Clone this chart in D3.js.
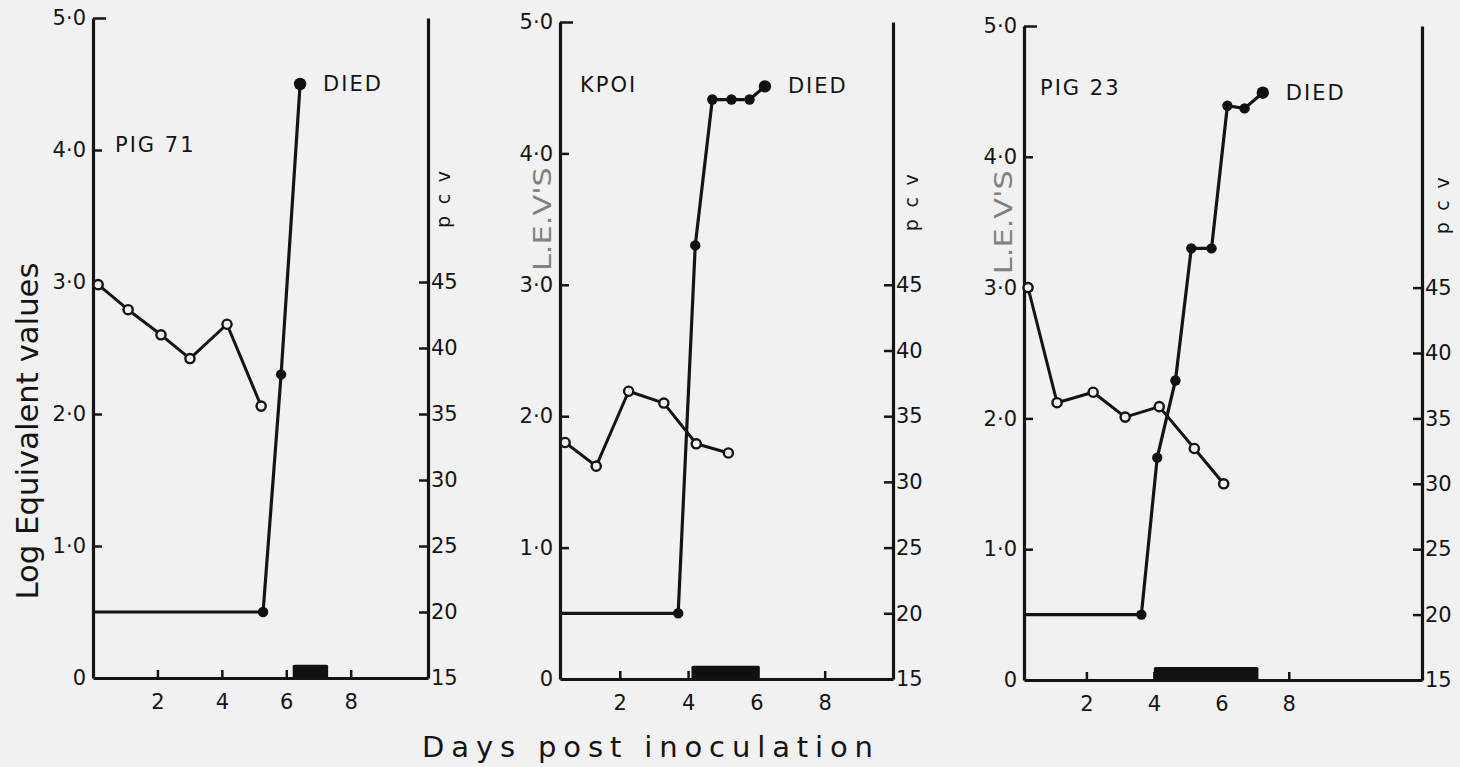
<!DOCTYPE html>
<html>
<head>
<meta charset="utf-8">
<script src="https://cdn.jsdelivr.net/npm/d3@7"></script>
<style>
  body { margin: 0; background: #f1f1f1; }
  svg { display: block; }
  text { font-family: "DejaVu Sans", sans-serif; fill: #141414; }
</style>
</head>
<body>
<div id="chart"></div>
<script>
// ---- data ----
var panelNames = ["PIG 71", "KPOI", "PIG 23"];

// packed cell volume (open circles), right-hand scale
var pig71PcvDays = [0.16, 1.09, 2.11, 3.01, 4.16, 5.22],
    pig71Pcv     = [44.8, 42.9, 41.0, 39.2, 41.8, 35.6];
var kp01PcvDays  = [0.40, 1.31, 2.26, 3.29, 4.24, 5.18],
    kp01Pcv      = [33.0, 31.2, 36.9, 36.0, 32.9, 32.2];
var pig23PcvDays = [0.27, 1.13, 2.20, 3.15, 4.16, 5.20, 6.07],
    pig23Pcv     = [45.0, 36.2, 37.0, 35.1, 35.9, 32.7, 30.0];

// log equivalent values (filled circles), left-hand scale
var pig71LevDays = [0, 5.28, 5.84, 6.43],
    pig71Lev     = [0.5, 0.5, 2.3, 4.5];
var kp01LevDays  = [0, 3.71, 4.21, 4.71, 5.27, 5.80, 6.25],
    kp01Lev      = [0.5, 0.5, 3.3, 4.41, 4.41, 4.41, 4.51];
var pig23LevDays = [0, 3.63, 4.10, 4.64, 5.11, 5.71, 6.18, 6.69, 7.23],
    pig23Lev     = [0.5, 0.5, 1.7, 2.29, 3.3, 3.3, 4.39, 4.37, 4.49];

// black bars on the day axis (start, end day)
var pig71Bar = [6.2, 7.3],
    kp01Bar  = [4.1, 6.1],
    pig23Bar = [4.0, 7.1];

var levTicks = [0, 1, 2, 3, 4, 5],
    pcvTicks = [15, 20, 25, 30, 35, 40, 45],
    dayTicks = [2, 4, 6, 8];
var dayDomains = [[0, 10.4], [0.25, 10], [0.15, 11.95]];

// ---- layout ----
var W = 1460, H = 767;
var frames = [
  {left: 93,   right: 428,  top: 18, bottom: 678, nameDx: 22, nameY: 152, levX: 0,    pcvDx: 22},
  {left: 560,  right: 893,  top: 22, bottom: 679, nameDx: 20, nameY: 92,  levX: 551,  pcvDx: 25},
  {left: 1024, right: 1422, top: 26, bottom: 680, nameDx: 16, nameY: 95,  levX: 1012, pcvDx: 27}
];

var panels = [
  {pcvDays: pig71PcvDays, pcv: pig71Pcv, levDays: pig71LevDays, lev: pig71Lev, bar: pig71Bar},
  {pcvDays: kp01PcvDays,  pcv: kp01Pcv,  levDays: kp01LevDays,  lev: kp01Lev,  bar: kp01Bar},
  {pcvDays: pig23PcvDays, pcv: pig23Pcv, levDays: pig23LevDays, lev: pig23Lev, bar: pig23Bar}
];

var svg = d3.select("#chart").append("svg")
  .attr("width", W)
  .attr("height", H);

svg.append("rect")
  .attr("width", W).attr("height", H)
  .attr("fill", "#f1f1f1");

var levFormat = function(d) { return d === 0 ? "0" : d3.format(".1f")(d).replace(".", "\u00b7"); };

panels.forEach(function(p, i) {
  var f = frames[i];
  var x = d3.scaleLinear().domain(dayDomains[i]).range([f.left, f.right]).clamp(true),
      y = d3.scaleLinear().domain([0, 5]).range([f.bottom, f.top]),
      yPcv = d3.scaleLinear().domain([15, 65]).range([f.bottom, f.top]);

  var g = svg.append("g");

  // axes: ticks point into the plot
  var axes = [
    g.append("g").attr("transform", "translate(" + f.left + ",0)")
      .call(d3.axisLeft(y).tickValues(levTicks).tickFormat(levFormat)
      .tickSizeInner(-9).tickSizeOuter(0).tickPadding(7)),
    g.append("g").attr("transform", "translate(" + f.right + ",0)")
      .call(d3.axisRight(yPcv).tickValues(pcvTicks).tickFormat(d3.format("d"))
      .tickSizeInner(-9).tickSizeOuter(0).tickPadding(3)),
    g.append("g").attr("transform", "translate(0," + f.bottom + ")")
      .call(d3.axisBottom(x).tickValues(dayTicks).tickFormat(d3.format("d"))
      .tickSizeInner(-8).tickSizeOuter(0).tickPadding(16))
  ];
  axes.forEach(function(a) {
    a.select(".domain").attr("stroke", "#141414").attr("stroke-width", 3.2);
    a.selectAll(".tick line").attr("stroke", "#141414").attr("stroke-width", 2.5);
    a.selectAll(".tick text").attr("font-size", 21).attr("font-family", "DejaVu Sans").attr("fill", "#141414");
  });
  // day-0 tick sits on the day axis; 5.0 tick is a longer cap
  axes[0].selectAll(".tick").filter(function(d) { return d === 0; }).select("line").remove();
  axes[0].selectAll(".tick").filter(function(d) { return d === 5; }).select("line").attr("x2", 13);
  axes[1].selectAll(".tick").filter(function(d) { return d === 15; }).select("line").remove();

  // black bar on day axis
  g.append("rect")
    .attr("x", x(p.bar[0]))
    .attr("y", y(0.1))
    .attr("width", x(p.bar[1]) - x(p.bar[0]))
    .attr("height", y(0) - y(0.1))
    .attr("rx", 1.5)
    .attr("fill", "#111");

  // pcv series
  var pcvPts = p.pcvDays.map(function(d, k) { return [x(d), yPcv(p.pcv[k])]; });
  g.append("path")
    .attr("d", d3.line()(pcvPts))
    .attr("fill", "none")
    .attr("stroke", "#141414")
    .attr("stroke-width", 3)
    .attr("stroke-linejoin", "round");

  // LEV series
  var levPts = p.levDays.map(function(d, k) { return [x(d), y(p.lev[k])]; });
  g.append("path")
    .attr("d", d3.line()(levPts))
    .attr("fill", "none")
    .attr("stroke", "#141414")
    .attr("stroke-width", 3.2)
    .attr("stroke-linejoin", "round");

  g.selectAll("circle.pcv")
    .data(pcvPts)
    .enter().append("circle")
    .attr("class", "pcv")
    .attr("cx", function(d) { return d[0]; })
    .attr("cy", function(d) { return d[1]; })
    .attr("r", 4.6)
    .attr("fill", "#f1f1f1")
    .attr("stroke", "#141414")
    .attr("stroke-width", 2.4);

  g.selectAll("circle.lev")
    .data(levPts.slice(1))
    .enter().append("circle")
    .attr("class", "lev")
    .attr("cx", function(d) { return d[0]; })
    .attr("cy", function(d) { return d[1]; })
    .attr("r", function(d, k) { return k === levPts.length - 2 ? 6.2 : 5.2; })
    .attr("fill", "#111");

  // labels
  var last = levPts[levPts.length - 1];
  g.append("text")
    .attr("x", last[0] + 23)
    .attr("y", last[1] + 7)
    .attr("font-size", 21)
    .attr("letter-spacing", 2)
    .text("DIED");

  g.append("text")
    .attr("x", f.left + f.nameDx)
    .attr("y", f.nameY)
    .attr("font-size", 21)
    .attr("letter-spacing", 2)
    .text(panelNames[i]);

  var pcvCy = (y(3.4) + y(3.85)) / 2;
  g.append("text")
    .attr("transform", "translate(" + (f.right + f.pcvDx) + "," + pcvCy + ") rotate(-90)")
    .attr("text-anchor", "middle")
    .attr("font-size", 19)
    .attr("textLength", 57)
    .attr("lengthAdjust", "spacing")
    .text("pcv");

  if (f.levX) {
    var levCy = (y(3.1) + y(3.9)) / 2;
    g.append("text")
      .attr("transform", "translate(" + f.levX + "," + levCy + ") rotate(-90)")
      .attr("text-anchor", "middle")
      .attr("font-size", 25)
      .attr("textLength", 104)
      .attr("lengthAdjust", "spacingAndGlyphs")
      .style("fill", "#808080")
      .text("L.E.V'S");
  }
});

// shared axis titles
svg.append("text")
  .attr("transform", "translate(38,431) rotate(-90)")
  .attr("text-anchor", "middle")
  .attr("font-size", 30)
  .attr("textLength", 337)
  .attr("lengthAdjust", "spacingAndGlyphs")
  .text("Log  Equivalent  values");

svg.append("text")
  .attr("x", 422)
  .attr("y", 757)
  .attr("font-size", 29)
  .attr("textLength", 451)
  .attr("lengthAdjust", "spacing")
  .text("Days   post   inoculation");
</script>
</body>
</html>
